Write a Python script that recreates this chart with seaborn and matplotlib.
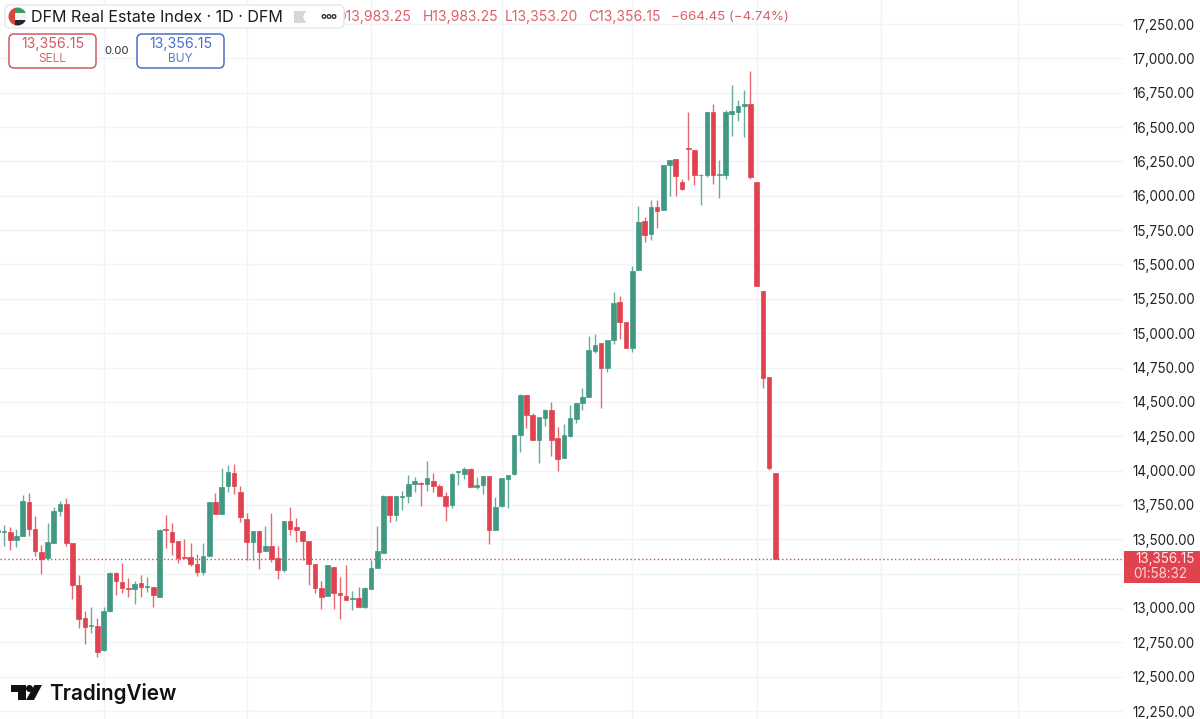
import numpy as np
import pandas as pd

import matplotlib
matplotlib.use("Agg")
import matplotlib.pyplot as plt
from matplotlib.patches import Circle, FancyBboxPatch, Polygon, Rectangle
import seaborn as sns

opens = [13556, 13553, 13553, 13495, 13527, 13774, 13578, 13410, 13362, 13471, 13709, 13755,
         13471, 13165, 12925, 12869, 12867, 12692, 12978, 13252, 13189, 13146, 13136, 13184,
         13155, 13153, 13083, 13575, 13553, 13485, 13371, 13369, 13320, 13262, 13381, 13769,
         13687, 13888, 13985, 13845, 13648, 13481, 13561,
         13417, 13449, 13362, 13274, 13633, 13590, 13563, 13490, 13320, 13146, 13087, 13299,
         13112, 13090, 13063, 13070, 13005, 13141, 13289, 13403, 13813, 13675, 13806, 13815,
         13903, 13913, 13903, 13925, 13888, 13818, 13750, 13990, 13976, 14014, 13883, 13893,
         13961, 13565, 13743, 13937, 13973, 14257, 14548, 14405,
         14226, 14383, 14439, 14238, 14092, 14255, 14376, 14490, 14536, 14869, 14927, 14750,
         14951, 15226, 15080, 14893,
         15461, 15820, 15723, 15917, 15895, 16223, 16267, 16104, 16347, 16330, 16148, 16150,
         16609, 16155, 16148, 16594, 16611, 16653, 16665,
         16097, 15304, 14682, 13983.25]
highs = [13633, 13604, 13592, 13575, 13823, 13840, 13670, 13459, 13621, 13738, 13777, 13801,
         13471, 13238, 12978, 13007, 12930, 13007, 13265, 13265, 13325, 13216, 13199, 13240,
         13223, 13155, 13575, 13677, 13616, 13488, 13502, 13471, 13391, 13471, 13774, 13840,
         14017, 14041, 14046, 13891, 13694, 13561, 13561,
         13597, 13689, 13454, 13633, 13738, 13653, 13563, 13490, 13320, 13194, 13311, 13301,
         13223, 13311, 13126, 13150, 13155, 13349, 13597, 13820, 13813, 13813, 13854, 13968,
         13951, 13920, 14073, 13980, 13900, 13842, 13980, 14000, 14024, 14019, 13956, 13961,
         13961, 13806, 13947, 13968, 14257, 14556, 14551, 14417,
         14393, 14446, 14502, 14320, 14340, 14478, 14490, 14599, 14983, 14993, 14927, 14951,
         15298, 15274, 15080, 15490,
         15929, 15844, 15966, 15971, 16225, 16262, 16269, 16124, 16611, 16335, 16157, 16611,
         16670, 16257, 16626, 16808, 16694, 16767, 16905,
         16097, 15304, 14682, 13983.25]
lows = [13495, 13454, 13422, 13447, 13524, 13524, 13381, 13245, 13349, 13471, 13670, 13451,
        13068, 12852, 12738, 12816, 12646, 12689, 12973, 13095, 13107, 13083, 13029, 13083,
        13119, 13010, 13083, 13439, 13386, 13325, 13362, 13306, 13235, 13240, 13381, 13684,
        13684, 13847, 13830, 13629, 13349, 13349, 13282,
        13417, 13337, 13209, 13265, 13532, 13483, 13349, 13167, 13112, 12993, 13087, 12993,
        12922, 13058, 12985, 13005, 13000, 13141, 13289, 13403, 13624, 13633, 13714, 13767,
        13847, 13743, 13854, 13847, 13815, 13633, 13728, 13896, 13937, 13881, 13866, 13830,
        13464, 13565, 13738, 13731, 13970, 14138, 14313, 14224,
        14058, 14328, 14109, 14000, 14092, 14247, 14345, 14442, 14533, 14854, 14459, 14716,
        14925, 14959, 14893, 14866,
        15461, 15662, 15677, 15769, 15895, 15995, 16000, 16039, 16116, 16082, 15932, 16136,
        16087, 15985, 16121, 16437, 16541, 16425, 16121,
        15344, 14602, 14005, 13353.20]
closes = [13568, 13563, 13495, 13527, 13781, 13575, 13417, 13357, 13483, 13709, 13755, 13471,
          13165, 12920, 12864, 12874, 12682, 12976, 13252, 13197, 13146, 13136, 13172, 13155,
          13160, 13095, 13570, 13568, 13483, 13366, 13366, 13320, 13260, 13379, 13769, 13684,
          13883, 13993, 13891, 13660, 13483, 13561, 13410,
          13449, 13357, 13274, 13633, 13578, 13568, 13488, 13320, 13148, 13078, 13311, 13112,
          13095, 13061, 13070, 13005, 13143, 13289, 13415, 13818, 13680, 13813, 13813, 13903,
          13922, 13903, 13947, 13888, 13818, 13743, 13978, 13997, 14014, 13883, 13896, 13961,
          13565, 13738, 13944, 13966, 14257, 14551, 14405, 14226,
          14393, 14439, 14226, 14082, 14257, 14381, 14490, 14539, 14881, 14915, 14750, 14951,
          15218, 15080, 14893, 15456,
          15806, 15718, 15922, 15893, 16225, 16259, 16145, 16053, 16340, 16153, 16155, 16609,
          16150, 16162, 16609, 16619, 16653, 16665, 16136,
          15344, 14674, 14020.60, 13356.15]

price_ticks = list(range(12250, 17251, 250))
hidden_tick = 13250  # sits behind the last-price label
date_grid = [17, 40, 60, 81, 102, 122, 142, 164]
last_price = 13356.15

GREEN = "#429983"
RED = "#e0434f"
TEXT_RED = "#d9606a"

sns.set_style("white")
plt.rcParams["font.family"] = ["Inter", "DejaVu Sans"]

df = pd.DataFrame({"idx": np.arange(len(opens)), "open": opens, "high": highs,
                   "low": lows, "close": closes})
df["up"] = df["close"] >= df["open"]
df["bottom"] = df[["open", "close"]].min(axis=1)
df["height"] = (df["close"] - df["open"]).abs()

fig = plt.figure(figsize=(12, 7.19), dpi=100)
ax = fig.add_axes([0, 0, 1123 / 1200, 1])

ax.axhline(last_price, color=RED, lw=1, ls=(0, (1, 1.8)), zorder=1)
ax.vlines(df["idx"], df["low"], df["high"], colors=[GREEN if u else RED for u in df["up"]],
          lw=1, alpha=0.8, zorder=2)

# bodies, one call per colour
for up, color in [(True, GREEN), (False, RED)]:
    part = df[df["up"] == up]
    sns.barplot(data=part, x="idx", y="height", native_scale=True, errorbar=None,
                color=color, saturation=1, width=0.74, bottom=part["bottom"].values,
                edgecolor=color, linewidth=0.5, zorder=3, ax=ax)

ax.set_xlim(0.354, 180.9)
ax.set_ylim(13000 - 111 * 7.278, 13000 + 608 * 7.278)
ax.set_xticks(date_grid)
ax.set_xticklabels([])
ax.set_yticks(price_ticks)
ax.set_yticklabels(["" if p == hidden_tick else f"{p:,.2f}" for p in price_ticks])
ax.yaxis.tick_right()
ax.tick_params(axis="y", length=0, pad=7, labelsize=9.7, labelcolor="#1f2329")
ax.tick_params(axis="x", length=0)
ax.set_xlabel("")
ax.set_ylabel("")
ax.grid(True, color="#f2f3f6", lw=1)
ax.set_axisbelow(True)
sns.despine(ax=ax, left=True, bottom=True)

# overlay in pixels for the TradingView furniture
ui = fig.add_axes([0, 0, 1, 1], zorder=5)
ui.set_xlim(0, 1200)
ui.set_ylim(719, 0)
ui.axis("off")
ui.patch.set_alpha(0)

ui.add_patch(Rectangle((1124, 551), 76, 32, color=RED, lw=0))
ui.text(1195, 559, "13,356.15", color="#ffe9ea", fontsize=9.7, ha="right", va="center")
ui.text(1133, 574.5, "01:58:32", color="#fbd3d6", fontsize=9.7, ha="left", va="center")

ui.add_patch(FancyBboxPatch((5, 5), 339, 23, boxstyle="round,pad=0,rounding_size=5",
                            fc="white", ec="#e6e7ea", lw=1, zorder=3))

# flag
clip = Circle((17.5, 16.5), 9, transform=ui.transData)
for rect, c in [((8, 7, 6.5, 19), "#d9483b"), ((14.5, 7, 13, 6.3), "#3f9a5b"),
                ((14.5, 13.3, 13, 6.3), "#f4f4f4"), ((14.5, 19.6, 13, 6.5), "#23262e")]:
    p = Rectangle(rect[:2], rect[2], rect[3], color=c, lw=0, zorder=4)
    ui.add_patch(p)
    p.set_clip_path(clip)

ui.text(31, 17, "DFM Real Estate Index · 1D · DFM", color="#1a1c20", fontsize=11.6,
        ha="left", va="center", zorder=4)
ui.add_patch(Polygon([(294, 11), (306, 11), (303, 17), (306, 23), (294, 23)],
                     color="#d6d6d6", lw=0, zorder=4))
for dx in (324, 329, 334):
    ui.add_patch(Circle((dx, 16.5), 1.8, fc="white", ec="#333333", lw=1, zorder=4))

for x, s, size in [(335, "O13,983.25", 10), (423, "H13,983.25", 10), (505, "L13,353.20", 10),
                   (588, "C13,356.15", 10), (671, "−664.45 (−4.74%)", 9.6)]:
    ui.text(x, 17, s, color=TEXT_RED, fontsize=size, ha="left", va="center", zorder=2)

# sell / buy
for x0, c, label in [(9, "#cf5b63", "SELL"), (137, "#4a6fc4", "BUY")]:
    ui.add_patch(FancyBboxPatch((x0, 34), 87, 34, boxstyle="round,pad=0,rounding_size=5",
                                fc="white", ec=c, lw=1.1))
    ui.text(x0 + 43.5, 44, "13,356.15", color=c, fontsize=10.2, ha="center", va="center")
    ui.text(x0 + 43.5, 58.5, label, color=c, fontsize=8.6, ha="center", va="center", alpha=0.9)
ui.text(116.5, 51, "0.00", color="#2a2e35", fontsize=8.2, ha="center", va="center")

# logo
ui.add_patch(Polygon([(11, 685), (26, 685), (26, 700), (18, 700), (18, 692), (11, 692)],
                     color="#111111", lw=0))
ui.add_patch(Circle((29.5, 688.5), 3.5, color="#111111", lw=0))
ui.add_patch(Polygon([(34.5, 685), (42, 685), (34, 700), (26, 700)], color="#111111", lw=0))
ui.text(49, 693, "TradingView", color="#111111", fontsize=14.9, fontweight="semibold",
        ha="left", va="center")

fig.savefig("out.png", dpi=100)
